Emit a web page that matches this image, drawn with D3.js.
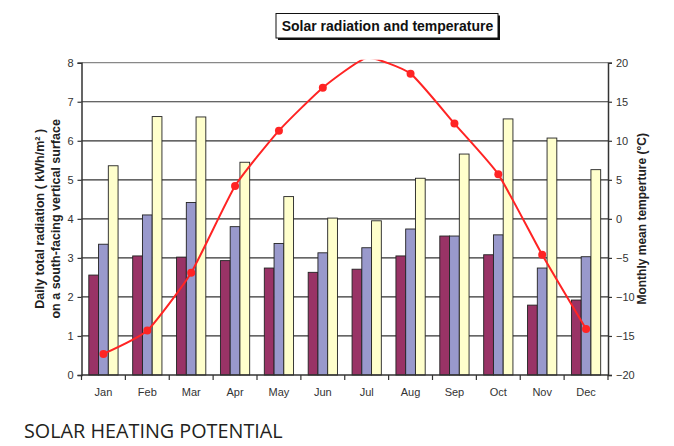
<!DOCTYPE html>
<html><head><meta charset="utf-8">
<script src="https://cdn.jsdelivr.net/npm/d3@7"></script>
<style>body{margin:0;background:#fff}svg{display:block}</style>
</head><body>
<svg id="c" width="674" height="446"></svg>
<script>
const months = ["Jan","Feb","Mar","Apr","May","Jun","Jul","Aug","Sep","Oct","Nov","Dec"];
const seriesA = [2.56,3.05,3.02,2.93,2.74,2.63,2.71,3.05,3.56,3.08,1.79,1.92];
const seriesB = [3.35,4.10,4.42,3.80,3.37,3.13,3.26,3.74,3.56,3.59,2.74,3.03];
const seriesC = [5.36,6.62,6.61,5.45,4.57,4.02,3.95,5.04,5.66,6.56,6.07,5.26];
const temperature = [-17.3,-14.3,-6.9,4.2,11.3,16.8,20.6,18.6,12.2,5.7,-4.6,-14.1];
const leftTicks = [0,1,2,3,4,5,6,7,8];
const rightTicks = [-20,-15,-10,-5,0,5,10,15,20];

const svg = d3.select("#c");
const L = 81.5, R = 608, T = 62.7, B = 375;
const x = d3.scaleBand().domain(months).range([L, R]);
const yL = d3.scaleLinear().domain([0, 8]).range([B, T]);
const yR = d3.scaleLinear().domain([-20, 20]).range([B, T]);
const bw = x.bandwidth() / 4.5;
const font = "Liberation Sans, Arial, sans-serif";

// gridlines
svg.append("g").selectAll("line").data(leftTicks.filter(d => d > 0)).join("line")
  .attr("x1", L).attr("x2", R).attr("y1", d => yL(d)).attr("y2", d => yL(d))
  .attr("stroke", d => d === 8 ? "#888" : "#333").attr("stroke-width", 1.2);

// bars
const colors = ["#993366", "#9999cc", "#ffffcc"];
[seriesA, seriesB, seriesC].forEach((s, i) => {
  svg.append("g").selectAll("rect").data(s).join("rect")
    .attr("x", (d, j) => x(months[j]) + bw * 0.75 + i * bw)
    .attr("width", bw)
    .attr("y", d => yL(d))
    .attr("height", d => B - yL(d))
    .attr("fill", colors[i]).attr("stroke", "#222").attr("stroke-width", 0.9);
});

// axes
const axL = svg.append("g").attr("transform", `translate(${L},0)`)
  .call(d3.axisLeft(yL).tickValues(leftTicks).tickSize(4).tickPadding(4).tickFormat(d3.format("d")));
const axR = svg.append("g").attr("transform", `translate(${R},0)`)
  .call(d3.axisRight(yR).tickValues(rightTicks).tickSize(4).tickPadding(4).tickFormat(d3.format("d")));
const axB = svg.append("g").attr("transform", `translate(0,${B})`)
  .call(d3.axisBottom(x).tickSize(0).tickPadding(13));
[axL, axR, axB].forEach(a => {
  a.select(".domain").attr("stroke", "#333").attr("stroke-width", 1.5);
  a.selectAll(".tick line").attr("stroke", "#333").attr("stroke-width", 1.2);
  a.selectAll("text").attr("font-family", font).attr("font-size", 11).attr("fill", "#333");
});
axB.select(".domain").remove();
svg.append("line").attr("x1", L).attr("x2", R).attr("y1", B).attr("y2", B).attr("stroke", "#333").attr("stroke-width", 1.5);
// band boundary ticks on x axis
svg.append("g").selectAll("line").data(months.concat(["end"])).join("line")
  .attr("x1", (d, i) => i < 12 ? x(d) : R).attr("x2", (d, i) => i < 12 ? x(d) : R)
  .attr("y1", B).attr("y2", B + 5).attr("stroke", "#333").attr("stroke-width", 1.2);

// temperature line (lightly smoothed, clipped just above the plot area)
svg.append("clipPath").attr("id", "pc").append("rect")
  .attr("x", L - 10).attr("y", T - 3).attr("width", R - L + 20).attr("height", B - T + 20);
const line = d3.line().curve(d3.curveCardinal.tension(0.5))
  .x((d, i) => x(months[i]) + x.bandwidth() / 2).y(d => yR(d));
svg.append("path").datum(temperature).attr("d", line).attr("clip-path", "url(#pc)")
  .attr("fill", "none").attr("stroke", "#ff2424").attr("stroke-width", 2);
svg.append("g").selectAll("circle").data(temperature.map((d, i) => [d, i]).filter(p => p[0] <= 20)).join("circle")
  .attr("cx", p => x(months[p[1]]) + x.bandwidth() / 2).attr("cy", p => yR(p[0]))
  .attr("r", 4).attr("fill", "#ff2424");

// title box
const tb = svg.append("g");
tb.append("rect").attr("x", 278).attr("y", 15.5).attr("width", 222).attr("height", 24.5).attr("fill", "#111");
tb.append("rect").attr("x", 276).attr("y", 13.5).attr("width", 222).attr("height", 24.5).attr("fill", "#fff").attr("stroke", "#111").attr("stroke-width", 1);
tb.append("text").attr("x", 387.5).attr("y", 31).attr("text-anchor", "middle")
  .attr("font-family", font).attr("font-weight", "bold").attr("font-size", 14).attr("fill", "#111")
  .text("Solar radiation and temperature");

// axis titles
const lt = svg.append("text").attr("transform", `translate(44,${(T + B) / 2}) rotate(-90)`)
  .attr("text-anchor", "middle").attr("font-family", font).attr("font-weight", "bold").attr("font-size", 12.5).attr("fill", "#222");
lt.append("tspan").attr("x", 0).attr("dy", 0).text("Daily total radiation ( kWh/m² )");
lt.append("tspan").attr("x", 0).attr("dy", 15.5).text("on a south-facing vertical surface");
svg.append("text").attr("transform", `translate(646,${(T + B) / 2}) rotate(-90)`)
  .attr("text-anchor", "middle").attr("font-family", font).attr("font-weight", "bold").attr("font-size", 12).attr("fill", "#222")
  .text("Monthly mean temperture (°C)");

// footer
svg.append("text").attr("x", 24).attr("y", 437.5).attr("font-family", "Open Sans, sans-serif").attr("font-size", 19.8)
  .attr("fill", "#231f20").text("SOLAR HEATING POTENTIAL");
</script>
</body></html>
